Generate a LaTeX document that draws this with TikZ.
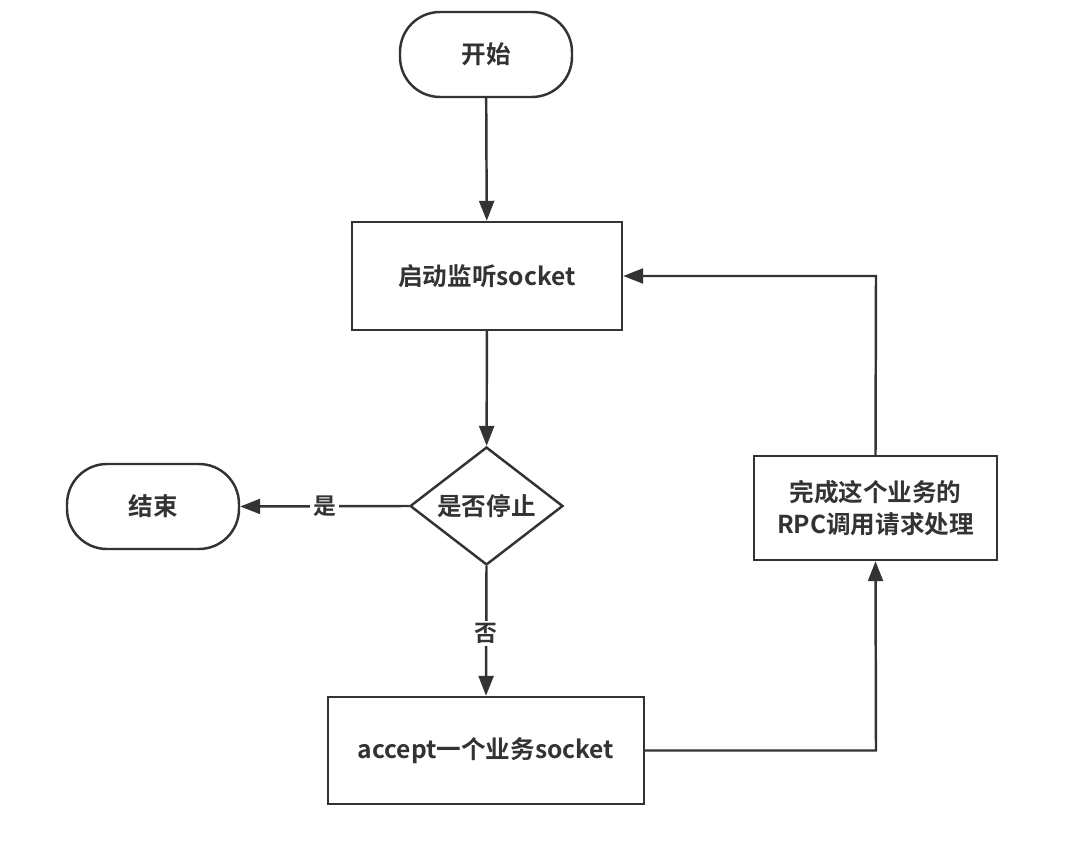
\documentclass[tikz,border=0pt]{standalone}
\usepackage{fontspec}
\setmainfont{Noto Sans CJK SC}[BoldFont={* Bold}]
\usetikzlibrary{shapes.geometric,arrows.meta}
\definecolor{ink}{HTML}{333333}
\begin{document}
\begin{tikzpicture}[x=0.02cm,y=-0.02cm,
  every node/.style={font=\bfseries\fontsize{14pt}{18pt}\selectfont, text=ink},
  base/.style={draw=ink, line width=1.4pt, fill=white},
  terminal/.style={base, rounded corners=0.8cm, minimum width=3.44cm, minimum height=1.7cm},
  procbox/.style={base, rectangle},
  decision/.style={base, diamond, minimum width=3.06cm, minimum height=2.36cm, inner sep=0pt},
  conn/.style={draw=ink, line width=1.4pt, -{Triangle[length=0.4cm,width=0.3cm]}},
  lbl/.style={fill=white, inner sep=1.5pt, font=\bfseries\fontsize{13pt}{15pt}\selectfont}
]
\useasboundingbox (0,0) rectangle (1076,854);
\node[terminal] (start) at (486,54.5) {开始};
\node[procbox, minimum width=5.4cm, minimum height=2.16cm] (listen) at (487,276) {启动监听socket};
\node[decision, aspect=1.3] (stop) at (486.5,506) {是否停止};
\node[terminal] (end) at (153,506.5) {结束};
\node[procbox, minimum width=6.32cm, minimum height=2.14cm] (accept) at (486,750.5) {accept一个业务socket};
\node[procbox, minimum width=4.86cm, minimum height=2.08cm, align=center] (rpc) at (875.5,508) {完成这个业务的\\RPC调用请求处理};
\coordinate (c1) at (876,750.5);
\coordinate (c2) at (876,276);
\draw[conn] (start) -- (listen);
\draw[conn] (listen) -- (stop);
\draw[conn] (stop.west) -- node[lbl]{是} (end.east);
\draw[conn] (stop.south) -- node[lbl, pos=0.52]{否} (accept.north);
\draw[conn] (accept.east) -- (c1) -- (rpc.south);
\draw[conn] (rpc.north) -- (c2) -- (listen.east);
\end{tikzpicture}
\end{document}
